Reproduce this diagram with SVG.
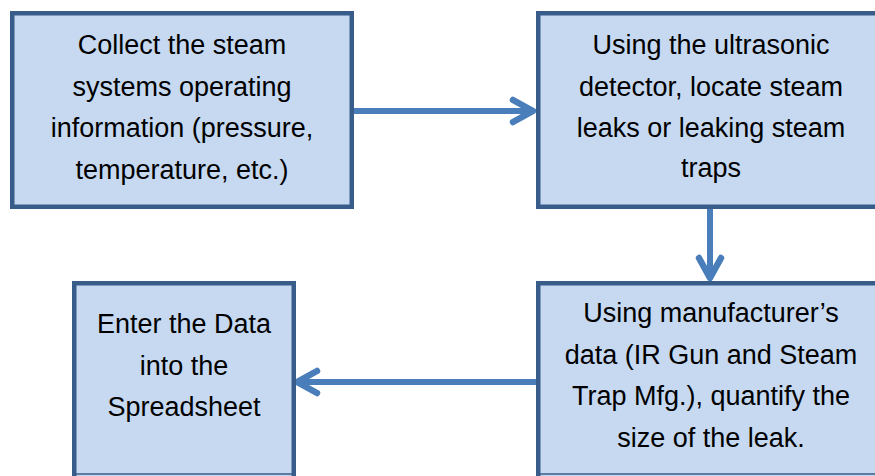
<svg xmlns="http://www.w3.org/2000/svg" width="875" height="476" viewBox="0 0 875 476">
  <style>
    .box { fill: #C6D9F1; stroke: #385D8A; stroke-width: 4.5; }
    .edge { stroke: #385D8A; stroke-width: 1.5; }
    .lbl { font-family: "Liberation Sans", Arial, sans-serif; font-size: 27px; fill: #000; text-anchor: middle; }
    .conn { fill: none; stroke: #4A7EBB; stroke-width: 6; }
  </style>
  <defs>
    <marker id="chev" markerUnits="userSpaceOnUse" viewBox="-30 -16 36 32" refX="0" refY="0" markerWidth="36" markerHeight="32" orient="auto" overflow="visible">
      <path d="M-20,-11 L0,0 L-20,11" fill="none" stroke="#4A7EBB" stroke-width="6.5" stroke-linecap="round" stroke-linejoin="round"/>
    </marker>
  </defs>
  <rect width="875" height="476" fill="#FFFFFF"/>

  <g id="connectors">
    <path class="conn" d="M354,111 L533,111" marker-end="url(#chev)"/>
    <path class="conn" d="M710,209 L710,278" marker-end="url(#chev)"/>
    <path class="conn" d="M538,382 L297,382" marker-end="url(#chev)"/>
  </g>

  <g id="node-collect">
    <rect class="box" x="12.25" y="13.25" width="339.5" height="193.5"/>
    <text class="lbl" x="182" y="54">Collect the steam</text>
    <text class="lbl" x="182" y="95.5">systems operating</text>
    <text class="lbl" x="182" y="137">information (pressure,</text>
    <text class="lbl" x="182" y="178.5">temperature, etc.)</text>
  </g>

  <g id="node-locate">
    <rect class="box" x="538.25" y="13.25" width="346" height="193.5"/>
    <text class="lbl" x="711" y="54">Using the ultrasonic</text>
    <text class="lbl" x="711" y="95.5">detector, locate steam</text>
    <text class="lbl" x="711" y="137">leaks or leaking steam</text>
    <text class="lbl" x="711" y="177">traps</text>
  </g>

  <g id="node-quantify">
    <rect class="box" x="538.25" y="283.25" width="346" height="200"/>
    <line class="edge" x1="538" y1="474" x2="875" y2="474"/>
    <text class="lbl" x="711" y="322">Using manufacturer’s</text>
    <text class="lbl" x="711" y="363.5">data (IR Gun and Steam</text>
    <text class="lbl" x="711" y="405">Trap Mfg.), quantify the</text>
    <text class="lbl" x="711" y="447">size of the leak.</text>
  </g>

  <g id="node-enter">
    <rect class="box" x="74.25" y="283.25" width="219.5" height="200"/>
    <line class="edge" x1="74" y1="474" x2="294" y2="474"/>
    <text class="lbl" x="184" y="333">Enter the Data</text>
    <text class="lbl" x="184" y="374.5">into the</text>
    <text class="lbl" x="184" y="416">Spreadsheet</text>
  </g>
</svg>
